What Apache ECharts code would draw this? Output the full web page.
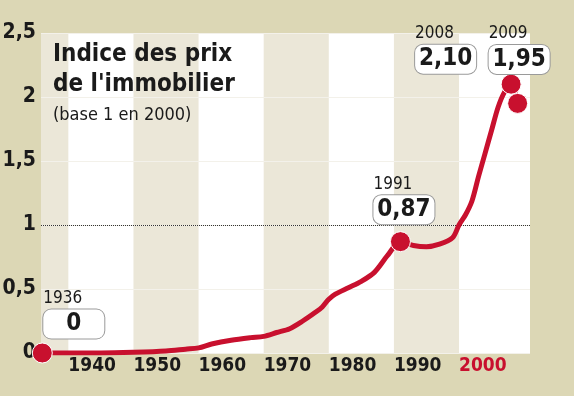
<!DOCTYPE html>
<html>
<head>
<meta charset="utf-8">
<script src="https://cdn.jsdelivr.net/npm/echarts@6/dist/echarts.min.js"></script>
<style>
  html, body { margin: 0; padding: 0; background: #dcd7b5; }
  #chart { width: 574px; height: 396px; }
</style>
</head>
<body>
<div id="chart"></div>
<script>
// Indice des prix de l'immobilier (base 1 en 2000)
const years = [1936, 1940, 1945, 1950, 1955, 1958, 1960, 1962, 1965, 1968, 1970, 1972, 1974, 1976, 1978, 1979, 1980, 1981, 1983, 1985, 1987, 1989, 1991, 1993, 1995, 1997, 1999, 2000, 2001, 2002, 2003, 2004, 2005, 2006, 2007, 2008, 2009]
const values = [0, 0, 0, 0.005, 0.015, 0.03, 0.04, 0.07, 0.10, 0.12, 0.13, 0.16, 0.19, 0.25, 0.32, 0.36, 0.42, 0.46, 0.51, 0.56, 0.63, 0.76, 0.87, 0.84, 0.83, 0.85, 0.90, 1.00, 1.08, 1.19, 1.38, 1.56, 1.74, 1.92, 2.04, 2.10, 1.95]

// Points mis en avant
const highlightYears = [1936, 1991, 2008, 2009]
const highlightValues = [0, 0.87, 2.10, 1.95]
const highlightLabels = ['0', '0,87', '2,10', '1,95']
// décalage des étiquettes (coin bas-gauche du bloc par rapport au point)
const labelOffsets = [[1, -4], [-27, -7], [-96, 0], [-29, -19]]

// Axes
const xTickYears = [1940, 1950, 1960, 1970, 1980, 1990, 2000]
const bands = [[1935.8, 1940], [1950, 1960], [1970, 1980], [1990, 2000]]

const NARROW = "'Liberation Sans Narrow', 'DejaVu Sans Condensed', sans-serif"
const RED = '#c8102e'
const INK = '#1a1a1a'

const chart = echarts.init(document.getElementById('chart'))

const lineData = years.map((y, i) => [y, values[i]])
const pointData = highlightYears.map((y, i) => ({
  value: [y, highlightValues[i]],
  name: highlightLabels[i],
  label: { offset: labelOffsets[i] }
}))

chart.setOption({
  backgroundColor: '#dcd7b5',
  animation: false,
  title: {
    text: "Indice des prix\nde l'immobilier",
    subtext: '(base 1 en 2000)',
    left: 48,
    top: 35,
    itemGap: 6,
    textStyle: { fontFamily: NARROW, fontWeight: 'bold', fontSize: 24, lineHeight: 30, color: INK },
    subtextStyle: { fontFamily: NARROW, fontWeight: 'normal', fontSize: 18, color: INK }
  },
  grid: {
    left: 41, right: 44, top: 33, bottom: 43,
    outerBoundsMode: 'none',
    show: true, backgroundColor: '#ffffff', borderWidth: 0
  },
  xAxis: {
    type: 'value',
    min: 1935.8,
    max: 2010.9,
    z: 0,
    axisLine: { show: false },
    axisTick: { show: false },
    splitLine: { show: false },
    axisLabel: {
      customValues: xTickYears,
      align: 'left',
      margin: 4,
      formatter: (v) => (v === 2000 ? '{r|' + v + '}' : '{k|' + v + '}'),
      rich: {
        k: { fontFamily: NARROW, fontWeight: 'bold', fontSize: 19, color: INK },
        r: { fontFamily: NARROW, fontWeight: 'bold', fontSize: 19, color: RED }
      }
    }
  },
  yAxis: {
    type: 'value',
    min: 0,
    max: 2.5,
    interval: 0.5,
    z: 2,
    axisLine: { show: false },
    axisTick: { show: false },
    axisLabel: {
      margin: 5,
      fontFamily: NARROW,
      fontWeight: 'bold',
      fontSize: 21,
      color: INK,
      formatter: (v) => String(v).replace('.', ',')
    },
    splitLine: {
      show: true,
      lineStyle: { color: '#f3f1ea', width: 1 }
    }
  },
  series: [
    {
      name: 'Indice',
      type: 'line',
      data: lineData,
      smooth: 0.3,
      showSymbol: false,
      z: 3,
      lineStyle: { color: RED, width: 5 },
      markArea: {
        silent: true,
        z: 1,
        itemStyle: { color: '#ebe7d8' },
        data: bands.map((b) => [{ xAxis: b[0] }, { xAxis: b[1] }])
      },
      markLine: {
        silent: true,
        z: 2,
        symbol: 'none',
        label: { show: false },
        lineStyle: { color: '#333', type: 'dotted', width: 1 },
        data: [{ yAxis: 1 }]
      }
    },
    {
      name: 'Points',
      type: 'scatter',
      data: pointData,
      z: 4,
      symbolSize: 20,
      itemStyle: { color: RED, opacity: 1, borderColor: '#ffffff', borderWidth: 1 },
      label: {
        show: true,
        position: 'top',
        distance: 0,
        align: 'left',
        formatter: (p) => '{y|' + p.value[0] + '}\n{v|' + p.name + '}',
        rich: {
          y: { fontFamily: NARROW, fontSize: 17, color: INK, lineHeight: 22, align: 'left' },
          v: {
            fontFamily: NARROW, fontWeight: 'bold', fontSize: 24, color: INK,
            width: 61, height: 29, lineHeight: 29, align: 'center',
            backgroundColor: '#ffffff', borderColor: '#9a9a9a', borderWidth: 1, borderRadius: 8
          }
        }
      }
    }
  ]
})
</script>
</body>
</html>
